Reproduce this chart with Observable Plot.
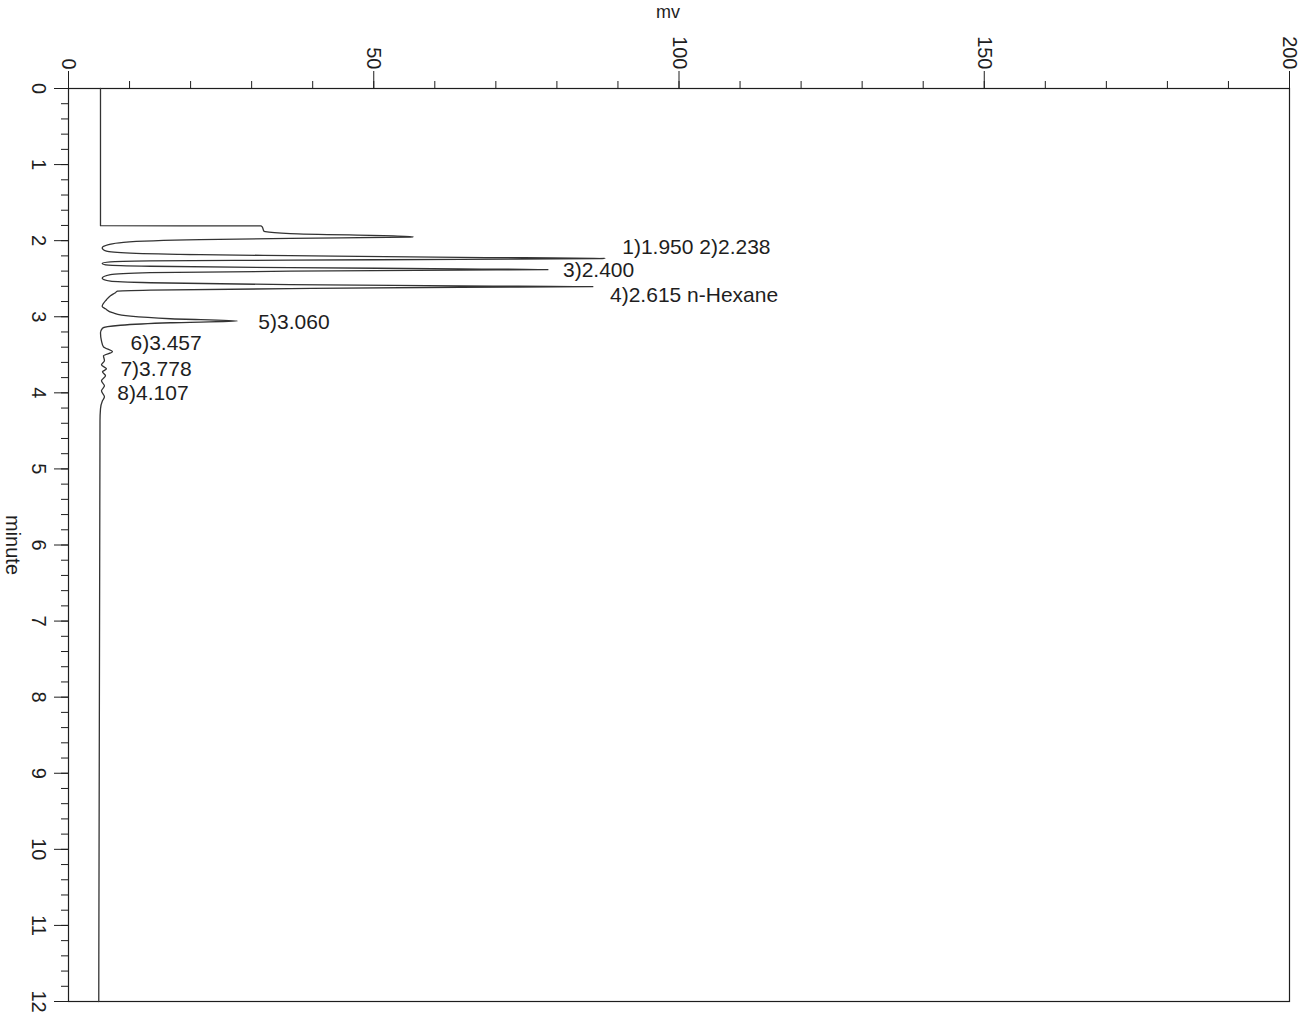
<!DOCTYPE html>
<html>
<head>
<meta charset="utf-8">
<script src="https://cdn.jsdelivr.net/npm/d3@7"></script>
<script src="https://cdn.jsdelivr.net/npm/@observablehq/plot@0.6"></script>
<style>
  html, body { margin: 0; padding: 0; background: #fff; }
</style>
</head>
<body>
<div id="chart"></div>
<script>
// Chromatogram trace: retention time (minute) and detector signal (mv)
const traceTime = [0, 1.803, 1.806, 1.822, 1.875, 1.882, 1.908, 1.947, 1.952, 1.970, 1.987, 2.022, 2.053, 2.096, 2.138, 2.164, 2.184, 2.197, 2.220, 2.233, 2.236, 2.245, 2.257, 2.266, 2.278, 2.299, 2.322, 2.336, 2.355, 2.370, 2.380, 2.386, 2.401, 2.421, 2.447, 2.493, 2.533, 2.553, 2.579, 2.595, 2.603, 2.612, 2.630, 2.651, 2.664, 2.684, 2.724, 2.776, 2.864, 2.895, 2.947, 2.993, 3.026, 3.055, 3.079, 3.112, 3.151, 3.211, 3.316, 3.395, 3.461, 3.513, 3.579, 3.632, 3.684, 3.724, 3.776, 3.842, 3.908, 3.974, 4.053, 4.105, 4.211, 4.368, 12];
const traceMv   = [5.24, 5.24, 31.5, 31.75, 32.0, 32.24, 36.33, 56.46, 56.0, 36.33, 21.6, 9.0, 6.55, 5.52, 6.22, 10.15, 21.6, 36.33, 64.16, 87.89, 87.0, 64.16, 36.33, 13.42, 6.87, 5.52, 6.55, 13.42, 36.33, 64.16, 78.56, 64.0, 36.33, 13.42, 6.87, 5.52, 6.87, 13.42, 36.33, 64.16, 85.92, 64.16, 36.33, 13.42, 8.02, 7.69, 6.87, 6.22, 5.52, 6.06, 7.2, 10.15, 16.69, 27.66, 16.69, 8.51, 5.56, 5.24, 5.40, 5.73, 7.2, 5.73, 5.89, 5.40, 6.22, 5.56, 6.06, 5.40, 5.89, 5.40, 5.89, 5.56, 5.24, 5.16, 4.96];

// Peak annotations
const peakLabels   = ["1)1.950 2)2.238", "3)2.400", "4)2.615 n-Hexane", "5)3.060", "6)3.457", "7)3.778", "8)4.107"];
const peakLabelMv  = [90.7, 81.0, 88.7, 31.1, 10.15, 8.5, 8.0];
const peakLabelMin = [2.092, 2.395, 2.724, 3.066, 3.355, 3.684, 4.0];

// Axis ticks
const mvMajorTicks = [0, 50, 100, 150, 200];
const mvMinorTicks = d3.range(0, 201, 10);
const minuteMajorTicks = [0, 1, 2, 3, 4, 5, 6, 7, 8, 9, 10, 11, 12];
const minuteMinorTicks = d3.range(0, 60.5, 1).map(k => k / 5);

const trace = traceTime.map((t, i) => ({t, mv: traceMv[i]}));
const peaks = peakLabels.map((label, i) => ({label, mv: peakLabelMv[i], t: peakLabelMin[i]}));

const ink = "#1e1e1e";

const chart = Plot.plot({
  width: 1314,
  height: 1018,
  marginTop: 88,
  marginLeft: 68,
  marginRight: 25,
  marginBottom: 17,
  x: {domain: [0, 200]},
  y: {domain: [0, 12], reverse: true},
  style: {fontFamily: "'Liberation Sans', Arial, sans-serif", background: "#fff", color: ink},
  marks: [
    // top axis ticks (minor + major)
    Plot.axisX({anchor: "top", ticks: mvMinorTicks, tickSize: 8, tickFormat: () => "", label: null, stroke: ink}),
    Plot.axisX({anchor: "top", ticks: mvMajorTicks, tickSize: 18, tickFormat: () => "", label: null, stroke: ink}),
    // left axis ticks (minor + major)
    Plot.axisY({anchor: "left", ticks: minuteMinorTicks, tickSize: 7, tickFormat: () => "", label: null, stroke: ink}),
    Plot.axisY({anchor: "left", ticks: minuteMajorTicks, tickSize: 14, tickFormat: () => "", label: null, stroke: ink}),
    Plot.frame({stroke: ink, strokeWidth: 1.2}),
    // rotated tick labels
    Plot.text(mvMajorTicks, {x: d => d, frameAnchor: "top", dy: -19, rotate: 90, textAnchor: "end", lineAnchor: "middle", text: d => String(d), fontSize: 20, fill: ink}),
    Plot.text(minuteMajorTicks, {y: d => d, frameAnchor: "left", dx: -30, rotate: 90, textAnchor: "middle", lineAnchor: "middle", text: d => String(d), fontSize: 20, fill: ink}),
    // axis titles
    Plot.text(["mv"], {frameAnchor: "top", dx: -11, dy: -76, textAnchor: "middle", lineAnchor: "middle", text: d => d, fontSize: 18, fill: ink}),
    Plot.text(["minute"], {frameAnchor: "left", dx: -56, rotate: 90, textAnchor: "middle", lineAnchor: "middle", text: d => d, fontSize: 20, fill: ink}),
    // chromatogram trace
    Plot.line(trace, {x: "mv", y: "t", curve: "monotone-y", stroke: "#333", strokeWidth: 1.3}),
    // peak labels
    Plot.text(peaks, {x: "mv", y: "t", text: "label", textAnchor: "start", lineAnchor: "middle", fontSize: 21, fill: ink})
  ]
});

document.getElementById("chart").appendChild(chart);
</script>
</body>
</html>
